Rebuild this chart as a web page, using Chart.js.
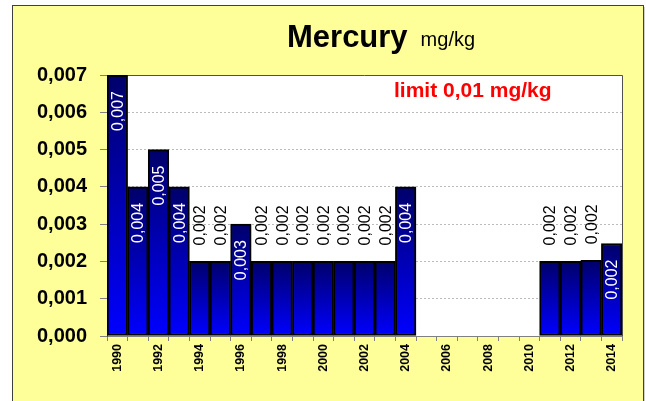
<!DOCTYPE html>
<html>
<head>
<meta charset="utf-8">
<title>Mercury</title>
<script src="https://cdn.jsdelivr.net/npm/chart.js@4.4.1/dist/chart.umd.min.js"></script>
<style>
    html, body { margin: 0; padding: 0; background: #ffffff; }
    canvas { display: block; }
</style>
</head>
<body>
<canvas id="mercuryChart" width="646" height="401"></canvas>
<script>
const years = ['1990', '1991', '1992', '1993', '1994', '1995', '1996', '1997', '1998', '1999',
    '2000', '2001', '2002', '2003', '2004', '2005', '2006', '2007', '2008', '2009',
    '2010', '2011', '2012', '2013', '2014'];
const mercury = [0.007, 0.004, 0.005, 0.004, 0.002, 0.002, 0.003, 0.002, 0.002, 0.002,
    0.002, 0.002, 0.002, 0.002, 0.004, null, null, null, null, null,
    null, 0.002, 0.002, 0.00203, 0.00248];
// true = value printed inside the bar, false = above it
const labelInside = [true, true, true, true, false, false, true, false, false, false,
    false, false, false, false, true, false, false, false, false, false,
    false, false, false, false, true];
const yTicks = [0, 0.001, 0.002, 0.003, 0.004, 0.005, 0.006, 0.007];
const titleMain = 'Mercury';
const titleUnit = 'mg/kg';
const limitNote = 'limit 0,01 mg/kg';

const FONT = 'Arial, "Liberation Sans", sans-serif';

function fmt(v) {
    return v.toFixed(3).replace('.', ',');
}

// yellow frame, white plot area, titles
const framePlugin = {
    id: 'frame',
    beforeDraw(chart) {
        const ctx = chart.ctx;
        const area = chart.chartArea;
        ctx.save();
        ctx.fillStyle = '#d0d0d0';
        ctx.fillRect(14, 7, 631, 400);
        ctx.fillStyle = '#ffff99';
        ctx.fillRect(12, 5, 631, 400);
        ctx.strokeStyle = '#404040';
        ctx.lineWidth = 1;
        ctx.strokeRect(12.5, 5.5, 631, 400);
        ctx.fillStyle = '#ffffff';
        ctx.fillRect(area.left, area.top, area.right - area.left, area.bottom - area.top);

        ctx.fillStyle = '#000000';
        ctx.textBaseline = 'alphabetic';
        ctx.textAlign = 'left';
        ctx.font = 'bold 31px ' + FONT;
        ctx.fillText(titleMain, 287, 47);
        const w = ctx.measureText(titleMain).width;
        ctx.font = '20px ' + FONT;
        ctx.fillText(titleUnit, 287 + w + 13, 46);
        ctx.restore();
    },
    beforeDatasetsDraw(chart) {
        const ctx = chart.ctx;
        const area = chart.chartArea;
        ctx.save();
        ctx.strokeStyle = '#505050';
        ctx.lineWidth = 1;
        ctx.beginPath();
        ctx.moveTo(area.left, area.top + 0.5);
        ctx.lineTo(area.right + 0.5, area.top + 0.5);
        ctx.lineTo(area.right + 0.5, area.bottom);
        ctx.stroke();

        ctx.fillStyle = '#ff0000';
        ctx.font = 'bold 21px ' + FONT;
        ctx.textAlign = 'left';
        ctx.textBaseline = 'alphabetic';
        ctx.fillText(limitNote, area.left + 287, area.top + 22);
        ctx.restore();
    }
};

// rotated value labels on the bars
const valueLabels = {
    id: 'valueLabels',
    afterDatasetsDraw(chart) {
        const ctx = chart.ctx;
        const meta = chart.getDatasetMeta(0);
        ctx.save();
        ctx.font = '16px ' + FONT;
        ctx.textBaseline = 'middle';
        meta.data.forEach((bar, i) => {
            const v = mercury[i];
            if (v === null) return;
            ctx.save();
            ctx.translate(bar.x, bar.y);
            ctx.rotate(-Math.PI / 2);
            if (labelInside[i]) {
                ctx.fillStyle = '#ffffff';
                ctx.textAlign = 'right';
                ctx.fillText(fmt(v), -16, 1);
            } else {
                ctx.fillStyle = '#000000';
                ctx.textAlign = 'left';
                ctx.fillText(fmt(v), 16, 1);
            }
            ctx.restore();
        });
        ctx.restore();
    }
};

function barGradient(context) {
    const chart = context.chart;
    const v = context.raw;
    if (!chart.chartArea || v === null || v === undefined) {
        return '#0000cc';
    }
    const y = chart.scales.y;
    const top = y.getPixelForValue(v);
    const bottom = y.getPixelForValue(0);
    const g = chart.ctx.createLinearGradient(0, top, 0, bottom);
    g.addColorStop(0, '#00006a');
    g.addColorStop(1, '#0000ff');
    return g;
}

new Chart(document.getElementById('mercuryChart'), {
    type: 'bar',
    data: {
        labels: years,
        datasets: [{
            label: 'Mercury',
            data: mercury,
            backgroundColor: barGradient,
            borderColor: '#000000',
            borderWidth: 2,
            borderSkipped: false,
            categoryPercentage: 1,
            barPercentage: 1
        }]
    },
    options: {
        responsive: false,
        animation: false,
        layout: {
            padding: { left: 20, top: 75, right: 24, bottom: 0 }
        },
        plugins: {
            legend: { display: false },
            tooltip: { enabled: false }
        },
        scales: {
            x: {
                afterFit: function (scale) { scale.height = 65; },
                grid: {
                    offset: true,
                    drawOnChartArea: false,
                    tickLength: 5,
                    tickColor: '#808080'
                },
                border: { color: '#808080', width: 1 },
                ticks: {
                    autoSkip: false,
                    minRotation: 90,
                    maxRotation: 90,
                    padding: 3,
                    color: '#000000',
                    font: { family: FONT, size: 12.5, weight: 'bold' },
                    callback: function (value, index) {
                        return index % 2 === 0 ? years[index] : '';
                    }
                }
            },
            y: {
                min: yTicks[0],
                max: yTicks[yTicks.length - 1],
                afterFit: function (scale) { scale.width = 87; },
                afterBuildTicks: function (scale) {
                    scale.ticks = yTicks.map(v => ({ value: v }));
                },
                grid: {
                    color: function (c) {
                        const v = c.tick ? c.tick.value : 0;
                        return (v > 0.0005 && v < 0.0065) ? '#bcbcbc' : 'rgba(0,0,0,0)';
                    },
                    tickLength: 7,
                    tickColor: '#808080'
                },
                border: { color: '#505050', width: 1, dash: [2, 2] },
                ticks: {
                    padding: 13,
                    color: '#000000',
                    font: { family: FONT, size: 20, weight: 'bold' },
                    callback: function (value) { return fmt(value); }
                }
            }
        }
    },
    plugins: [framePlugin, valueLabels]
});
</script>
</body>
</html>
